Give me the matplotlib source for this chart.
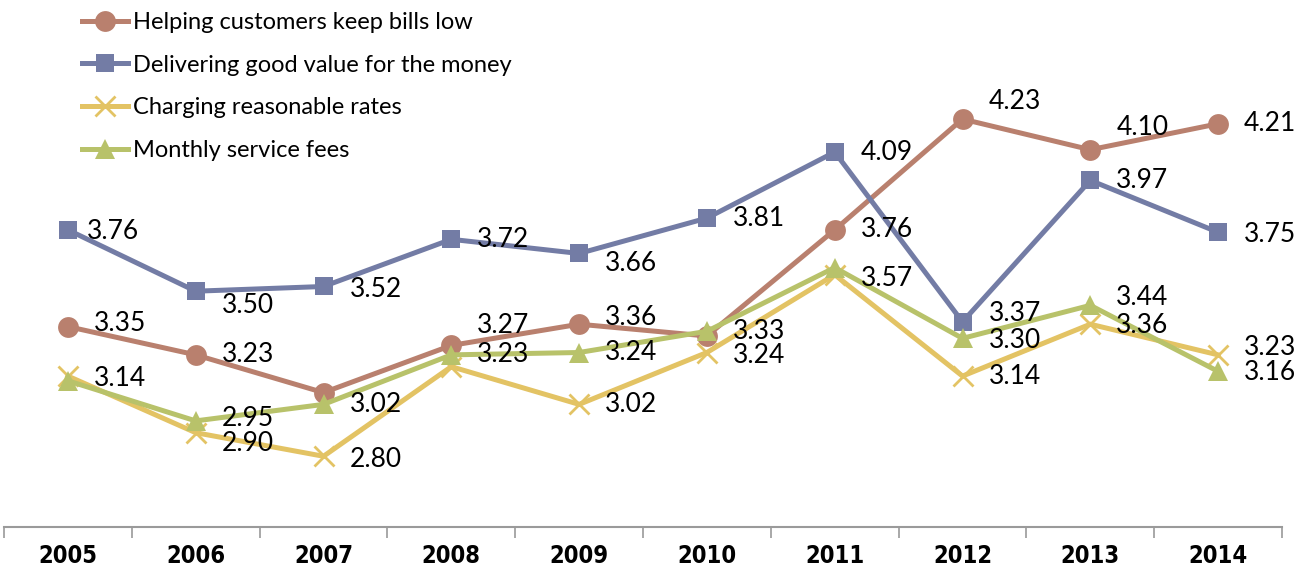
"""
Customer ratings of utility cost attributes, 2005-2014.

Output:
    out.png
"""

import matplotlib.pyplot as plt
from matplotlib.ticker import FixedLocator

years = ["2005", "2006", "2007", "2008", "2009", "2010", "2011", "2012", "2013", "2014"]

bills_low = [3.35, 3.23, 3.07, 3.27, 3.36, 3.31, 3.76, 4.23, 4.10, 4.21]
good_value = [3.76, 3.50, 3.52, 3.72, 3.66, 3.81, 4.09, 3.37, 3.97, 3.75]
reasonable_rates = [3.14, 2.90, 2.80, 3.18, 3.02, 3.24, 3.57, 3.14, 3.36, 3.23]
monthly_fees = [3.12, 2.95, 3.02, 3.23, 3.24, 3.33, 3.60, 3.30, 3.44, 3.16]

series_names = [
    "Helping customers keep bills low",
    "Delivering good value for the money",
    "Charging reasonable rates",
    "Monthly service fees",
]

# which points carry a value label (overlapping ones were left off)
bills_shown = [1, 1, 0, 1, 1, 0, 1, 1, 1, 1]
value_shown = [1, 1, 1, 1, 1, 1, 1, 1, 1, 1]
rates_shown = [1, 1, 1, 0, 1, 1, 1, 1, 1, 1]
fees_shown = [0, 1, 1, 1, 1, 1, 0, 1, 1, 1]

COLORS = ["#B9806E", "#737CA5", "#E3C364", "#B8C26A"]
MARKERS = ["o", "s", "x", "^"]
MSIZE = [15, 13, 14, 14]

# label nudges in pixels (dx, dy), dy positive = up
NUDGE = {
    (0, 0): (26, 3), (0, 3): (26, 20), (0, 4): (26, 7), (0, 7): (26, 18), (0, 8): (26, 22),
    (1, 0): (19, -2), (1, 1): (26, -14), (1, 2): (26, -3), (1, 4): (26, -10), (1, 7): (26, 8),
    (1, 9): (26, -2),
    (2, 0): (26, -2), (2, 1): (26, -11), (2, 2): (26, -3), (2, 6): (26, -4), (2, 5): (26, -3),
    (2, 8): (26, -1), (2, 9): (26, 7),
    (3, 1): (26, 2), (3, 8): (26, 8), (3, 7): (26, -2), (3, 9): (26, -1),
}

plt.rcParams["font.family"] = ["Lato", "DejaVu Sans"]

fig = plt.figure(figsize=(13, 5.76), dpi=100)
ax = fig.add_axes([4 / 1300, 49 / 576, 1278 / 1300, 527 / 576])

x = list(range(len(years)))
all_series = [bills_low, good_value, reasonable_rates, monthly_fees]
all_shown = [bills_shown, value_shown, rates_shown, fees_shown]

for i, (vals, name) in enumerate(zip(all_series, series_names)):
    ax.plot(x, vals, color=COLORS[i], lw=3.6, marker=MARKERS[i], ms=MSIZE[i],
            mew=2 if MARKERS[i] == "x" else 0, mec=COLORS[i], label=name,
            solid_joinstyle="miter", zorder=2 + i)

for i, (vals, shown) in enumerate(zip(all_series, all_shown)):
    for j, v in enumerate(vals):
        if not shown[j]:
            continue
        dx, dy = NUDGE.get((i, j), (26, 0))
        ax.annotate(f"{v:.2f}", (j, v), xytext=(dx, dy), textcoords="offset pixels",
                    ha="left", va="center", fontsize=19, color="black", zorder=10)

ax.set_xlim(-0.5, len(years) - 0.5)
ax.set_ylim(2.5, 2.5 + 527 / 235.8)

for side in ["top", "right", "left"]:
    ax.spines[side].set_visible(False)
ax.spines["bottom"].set_color("#9A9A9A")
ax.spines["bottom"].set_linewidth(1.5)
ax.set_yticks([])

ax.set_xticks(x)
ax.set_xticklabels(years, fontsize=17, fontweight="bold", fontstretch="condensed",
                   family=["DejaVu Sans"])
ax.tick_params(axis="x", which="major", length=0, pad=12)
ax.xaxis.set_minor_locator(FixedLocator([k - 0.5 for k in range(len(years) + 1)]))
ax.tick_params(axis="x", which="minor", length=8, width=1.2, color="#9A9A9A", direction="out")

leg = fig.legend(loc="upper left", bbox_to_anchor=(82 / 1300, 1 - 12 / 576), frameon=False,
                 fontsize=17, handlelength=1.95, handletextpad=0.2, labelspacing=0.92,
                 borderpad=0, borderaxespad=0, markerscale=1.0)

plt.savefig("out.png", dpi=100)
